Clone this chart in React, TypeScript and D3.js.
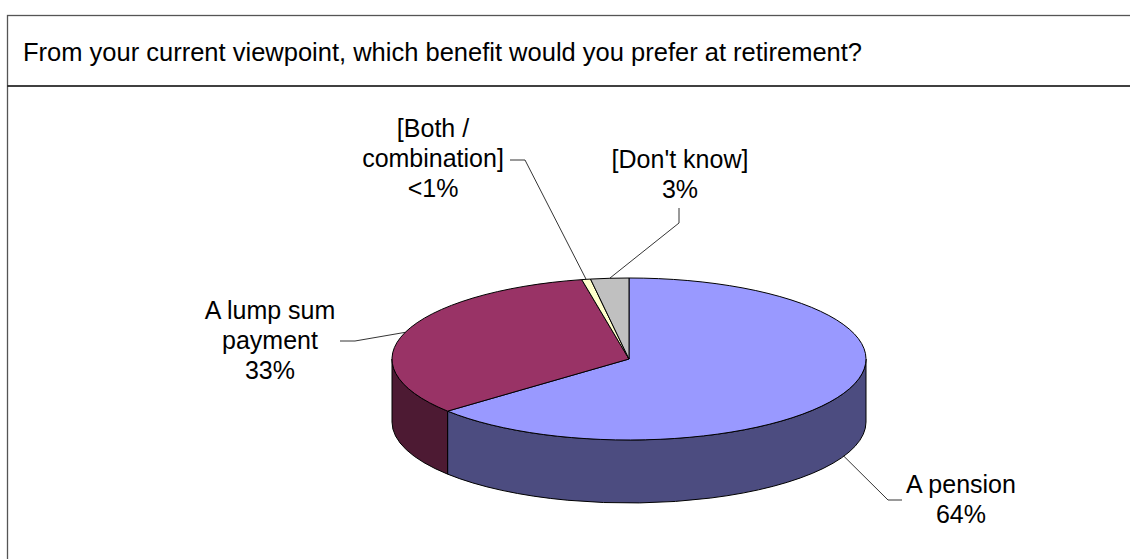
import React from "react";
import * as d3 from "d3";

const title = "From your current viewpoint, which benefit would you prefer at retirement?";
const categories = ["A pension", "A lump sum payment", "[Both / combination]", "[Don't know]"];
const values = [64, 33, 0.6, 2.6];
const valueLabels = ["64%", "33%", "<1%", "3%"];
const labelLines = [["A pension", "64%"], ["A lump sum", "payment", "33%"], ["[Both /", "combination]", "<1%"], ["[Don't know]", "3%"]];
const topColors = ["#9999FF", "#993366", "#FFFFCC", "#C0C0C0"];
const sideColors = ["#4C4C80", "#4D1A33", "#80806A", "#606060"];

// layout
const W = 1130, H = 559;
const cx = 629, cy = 359, rx = 237, ry = 81, depth = 63;
const labelPos = [
  { x: 961, y: 493, elbow: [[902, 500], [888, 500]] },
  { x: 270, y: 319, elbow: [[340, 341], [355, 341]] },
  { x: 433, y: 137, elbow: [[510, 160], [525, 160]] },
  { x: 680, y: 168, elbow: [[679, 208], [679, 223]] },
];
const lineH = 29.8;

const pt = (a: number, dz = 0): [number, number] => [cx + rx * Math.sin(a), cy - ry * Math.cos(a) + dz];

export default function App() {
  const pie = d3.pie<number>().sort(null).startAngle(0).endAngle(2 * Math.PI);
  const arcs = pie(values);

  const topPath = (a0: number, a1: number) => {
    const p0 = pt(a0), p1 = pt(a1);
    const large = a1 - a0 > Math.PI ? 1 : 0;
    return `M${cx},${cy}L${p0[0]},${p0[1]}A${rx},${ry} 0 ${large} 1 ${p1[0]},${p1[1]}Z`;
  };
  const sidePath = (a0: number, a1: number) => {
    const s = Math.max(a0, Math.PI / 2), e = Math.min(a1, 1.5 * Math.PI);
    if (s >= e) return null;
    const p0 = pt(s), p1 = pt(e), q1 = pt(e, depth), q0 = pt(s, depth);
    const large = e - s > Math.PI ? 1 : 0;
    return `M${p0[0]},${p0[1]}A${rx},${ry} 0 ${large} 1 ${p1[0]},${p1[1]}L${q1[0]},${q1[1]}A${rx},${ry} 0 ${large} 0 ${q0[0]},${q0[1]}Z`;
  };

  const font = "Arial, 'Liberation Sans', sans-serif";

  return (
    <svg width={W} height={H} style={{ position: "absolute", left: 0, top: 0, background: "#fff" }}>
      <rect x={7.5} y={15.5} width={1200} height={700} fill="#fff" stroke="#555" strokeWidth={1.3} />
      <line x1={7.5} x2={1200} y1={86} y2={86} stroke="#000" strokeWidth={1.6} />
      <text x={23} y={61} fontFamily={font} fontSize={25.5} fill="#000">{title}</text>

      {arcs.map((d, i) => {
        const p = sidePath(d.startAngle, d.endAngle);
        return p ? <path key={"s" + i} d={p} fill={sideColors[i]} stroke="#000" strokeWidth={1} strokeLinejoin="round" /> : null;
      })}
      {arcs.map((d, i) => (
        <path key={"t" + i} d={topPath(d.startAngle, d.endAngle)} fill={topColors[i]} stroke="#000" strokeWidth={1} strokeLinejoin="round" />
      ))}

      {arcs.map((d, i) => {
        const mid = (d.startAngle + d.endAngle) / 2;
        const front = Math.cos(mid) < 0;
        const end = pt(mid, front ? depth : 0);
        const pts = [...labelPos[i].elbow, end] as [number, number][];
        return <path key={"l" + i} d={d3.line()(pts) as string} fill="none" stroke="#000" strokeWidth={0.8} />;
      })}

      {labelLines.map((lines, i) => (
        <text key={"x" + i} x={labelPos[i].x} y={labelPos[i].y} fontFamily={font} fontSize={25} textAnchor="middle" fill="#000">
          {lines.map((ln, j) => (
            <tspan key={j} x={labelPos[i].x} dy={j === 0 ? 0 : lineH}>{ln}</tspan>
          ))}
        </text>
      ))}
    </svg>
  );
}
